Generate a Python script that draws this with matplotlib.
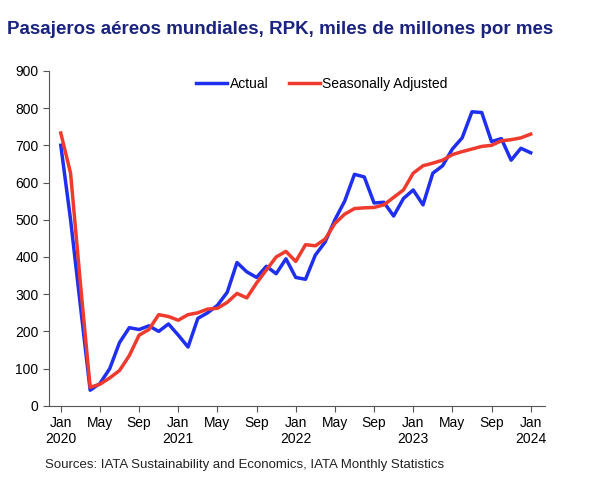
import matplotlib
matplotlib.use("Agg")
import matplotlib.pyplot as plt
import numpy as np

plt.rcParams['font.family'] = ['Liberation Sans', 'DejaVu Sans']

actual = [700,500,270,42,60,100,170,210,205,215,200,220,190,158,235,250,270,305,385,360,345,375,355,395,
          345,340,405,440,500,550,622,615,545,547,510,557,580,540,625,645,690,720,790,788,710,718,660,692,680]
sa = [733,625,330,50,58,75,95,135,190,205,245,240,230,245,250,260,262,278,302,290,330,365,400,415,
      388,433,430,448,490,515,530,532,533,540,560,580,625,645,652,660,675,683,690,697,700,712,715,720,730]
tick_labels = ["Jan\n2020","May","Sep","Jan\n2021","May","Sep","Jan\n2022","May","Sep","Jan\n2023","May","Sep","Jan\n2024"]

fig = plt.figure(figsize=(5.98,4.82), dpi=100)
ax = fig.add_axes([0.082, 0.158, 0.83, 0.695])
x = np.arange(len(actual))
ax.plot(x, actual, color="#1f2ff0", lw=2.5, label="Actual")
ax.plot(x, sa, color="#ee3b2e", lw=2.5, label="Seasonally Adjusted")
ax.set_ylim(0, 900)
ax.set_yticks(range(0, 901, 100))
ax.set_xlim(-1.2, 49.5)
ax.set_xticks(range(0, 49, 4))
ax.set_xticklabels(tick_labels)
for s in ["top", "right"]:
    ax.spines[s].set_visible(False)
for s in ["left", "bottom"]:
    ax.spines[s].set_color("#555555")
ax.tick_params(labelsize=10, color="#555555", length=4)
ax.legend(loc="upper center", bbox_to_anchor=(0.55, 1.02), ncol=2, frameon=False, fontsize=10,
          handlelength=2.2, columnspacing=1.5, handletextpad=0.2)
fig.text(0.012, 0.93, "Pasajeros aéreos mundiales, RPK, miles de millones por mes",
         fontsize=13.5, fontweight="bold", color="#1a237e")
fig.text(0.075, 0.03, "Sources: IATA Sustainability and Economics, IATA Monthly Statistics", fontsize=9.5, color="#222222")
fig.savefig("out.png", dpi=100)
